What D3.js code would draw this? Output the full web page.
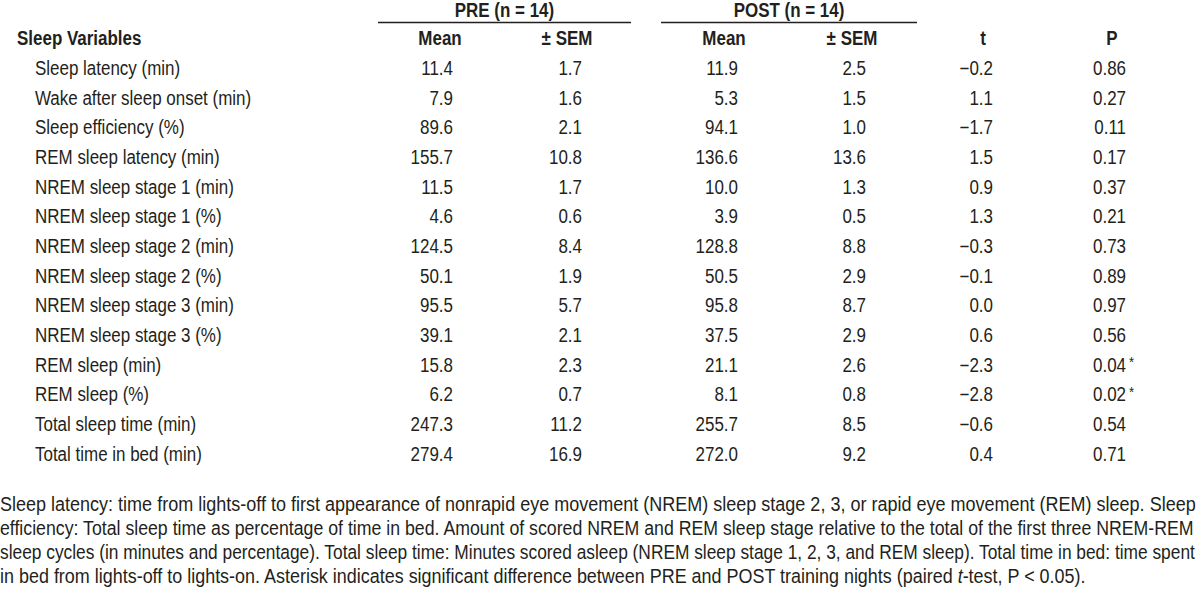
<!DOCTYPE html>
<html><head><meta charset="utf-8">
<script src="https://cdn.jsdelivr.net/npm/d3@7"></script>
<style>
html,body{margin:0;padding:0;background:#fff;}
svg text{font-family:"Liberation Sans Narrow","Arial Narrow","Liberation Sans",Arial,sans-serif;fill:#231f20;}
</style></head>
<body><svg id="c" width="1200" height="593"></svg>
<script>
const variables = ["Sleep latency (min)","Wake after sleep onset (min)","Sleep efficiency (%)","REM sleep latency (min)","NREM sleep stage 1 (min)","NREM sleep stage 1 (%)","NREM sleep stage 2 (min)","NREM sleep stage 2 (%)","NREM sleep stage 3 (min)","NREM sleep stage 3 (%)","REM sleep (min)","REM sleep (%)","Total sleep time (min)","Total time in bed (min)"];
const preMean = ["11.4","7.9","89.6","155.7","11.5","4.6","124.5","50.1","95.5","39.1","15.8","6.2","247.3","279.4"];
const preSem = ["1.7","1.6","2.1","10.8","1.7","0.6","8.4","1.9","5.7","2.1","2.3","0.7","11.2","16.9"];
const postMean = ["11.9","5.3","94.1","136.6","10.0","3.9","128.8","50.5","95.8","37.5","21.1","8.1","255.7","272.0"];
const postSem = ["2.5","1.5","1.0","13.6","1.3","0.5","8.8","2.9","8.7","2.9","2.6","0.8","8.5","9.2"];
const tVals = ["\u22120.2","1.1","\u22121.7","1.5","0.9","1.3","\u22120.3","\u22120.1","0.0","0.6","\u22122.3","\u22122.8","\u22120.6","0.4"];
const pVals = ["0.86","0.27","0.11","0.17","0.37","0.21","0.73","0.89","0.97","0.56","0.04","0.02","0.54","0.71"];
const significant = [false,false,false,false,false,false,false,false,false,false,true,true,false,false];
const groupHeaders = ["PRE (n = 14)","POST (n = 14)"];
const colHeaders = ["Mean","\u00b1 SEM","Mean","\u00b1 SEM","t","P"];
const footnoteLines = [
"Sleep latency: time from lights-off to first appearance of nonrapid eye movement (NREM) sleep stage 2, 3, or rapid eye movement (REM) sleep. Sleep",
"efficiency: Total sleep time as percentage of time in bed. Amount of scored NREM and REM sleep stage relative to the total of the first three NREM-REM",
"sleep cycles (in minutes and percentage). Total sleep time: Minutes scored asleep (NREM sleep stage 1, 2, 3, and REM sleep). Total time in bed: time spent",
"in bed from lights-off to lights-on. Asterisk indicates significant difference between PRE and POST training nights (paired |t|-test, P < 0.05)."
];

const svg = d3.select("#c");
const fs = 19.5;
const sx = 0.87;
function txt(x, y, s, opts = {}) {
  const t = svg.append("text")
    .attr("transform", `translate(${x},${y}) scale(${opts.sx || sx},1)`)
    .attr("dy", "0.35em")
    .attr("font-size", opts.fs || fs)
    .attr("text-anchor", opts.anchor || "start")
    .text(s);
  if (opts.bold) t.attr("font-weight", "bold");
  return t;
}

const y = d3.scaleBand().domain(variables).range([53.15, 468.85]).padding(0);
const yc = v => y(v) + y.bandwidth() / 2;

const colCenters = [440, 567, 724, 852, 983, 1112];
const colRight = [453, 582, 738, 866, 993, 1126];
const columns = [preMean, preSem, postMean, postSem, tVals, pVals];

const groups = [{x0: 378, x1: 631}, {x0: 661, x1: 917}];
groups.forEach((g, i) => {
  txt((g.x0 + g.x1) / 2, 10, groupHeaders[i], {anchor: "middle", bold: true});
  svg.append("line").attr("x1", g.x0).attr("x2", g.x1).attr("y1", 22.5).attr("y2", 22.5)
    .attr("stroke", "#231f20").attr("stroke-width", 1.6);
});

txt(17, 38, "Sleep Variables", {bold: true});
colHeaders.forEach((h, i) => txt(colCenters[i], 38, h, {anchor: "middle", bold: true}));

variables.forEach(v => txt(35, yc(v), v));
columns.forEach((col, ci) => {
  col.forEach((d, i) => txt(colRight[ci], yc(variables[i]), d, {anchor: "end"}));
});
variables.forEach((v, i) => {
  if (significant[i]) txt(colRight[5] + 3, yc(v) - 3, "*", {fs: 15});
});

// footnote: each line scaled horizontally to its measured width in the reference
const fy = [504, 528, 552, 576];
const fWidths = [1196, 1194, 1196, 1086];
footnoteLines.forEach((line, i) => {
  const t = svg.append("text").attr("dy", "0.35em").attr("font-size", 19.5);
  line.split("|").forEach((p, j) => {
    const ts = t.append("tspan").text(p);
    if (j % 2 === 1) ts.attr("font-style", "italic");
  });
  const w = t.node().getComputedTextLength();
  t.attr("transform", `translate(0,${fy[i]}) scale(${fWidths[i] / w},1)`);
});
</script></body></html>
